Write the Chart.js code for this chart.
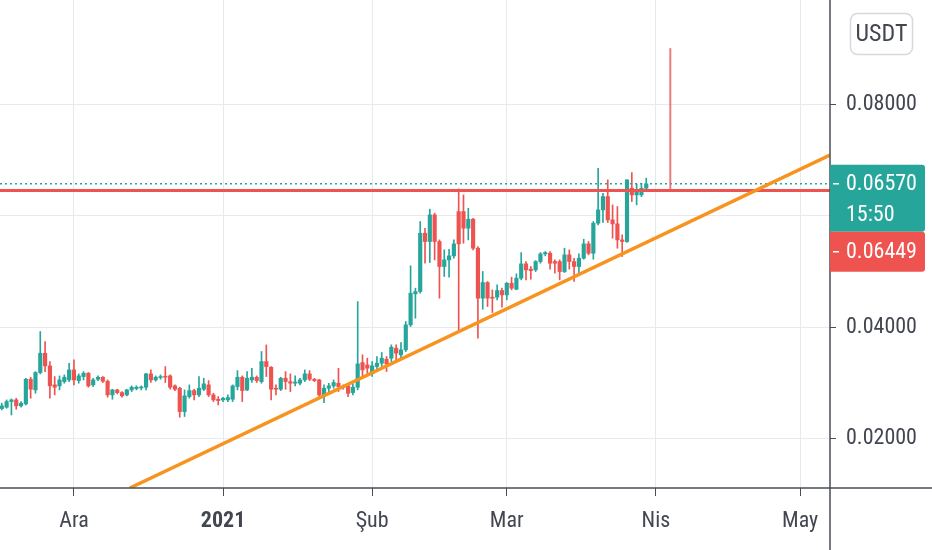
<!DOCTYPE html>
<html>
<head>
<meta charset="utf-8">
<style>
  html, body { margin: 0; padding: 0; background: #ffffff; }
</style>
<script src="https://cdn.jsdelivr.net/npm/chart.js@4.4.0/dist/chart.umd.min.js"></script>
</head>
<body>
<canvas id="chart" width="932" height="550"></canvas>
<script>
// daily candles, first one on 16 Nov 2020
const firstDate = '2020-11-16';

const open = [
  0.02545, 0.02569, 0.02670, 0.02700, 0.02593, 0.02628, 0.03070, 0.02879, 0.03190, 0.03536,
  0.03309, 0.02969, 0.02951, 0.03028, 0.03058, 0.03237, 0.03046, 0.03118, 0.03178, 0.02969,
  0.03070, 0.03106, 0.03034, 0.02790, 0.02879, 0.02831, 0.02790, 0.02879, 0.02903, 0.02915,
  0.02927, 0.03166, 0.03058, 0.03100, 0.03118, 0.03130, 0.02951, 0.02909, 0.02491, 0.02760,
  0.02867, 0.02790, 0.02891, 0.02969, 0.02790, 0.02712, 0.02700, 0.02700, 0.02712, 0.02939,
  0.03106, 0.02879, 0.03058, 0.03106, 0.03028, 0.03387, 0.03285, 0.02909, 0.02891, 0.03088,
  0.03028, 0.02999, 0.02999, 0.03058, 0.03166, 0.03070, 0.03058, 0.02790, 0.02909, 0.02951,
  0.02999, 0.02939, 0.02951, 0.02831, 0.02927, 0.03369, 0.03327, 0.03166, 0.03298, 0.03357,
  0.03429, 0.03447, 0.03626, 0.03507, 0.03596, 0.04044, 0.04599, 0.04641, 0.05686, 0.05537,
  0.06014, 0.05537, 0.05089, 0.05208, 0.05280, 0.06074, 0.06074, 0.05775, 0.05936, 0.05417,
  0.04522, 0.04802, 0.04540, 0.04540, 0.04659, 0.04581, 0.04790, 0.04683, 0.04880, 0.05137,
  0.05041, 0.05029, 0.05178, 0.05315, 0.05327, 0.05178, 0.05178, 0.04999, 0.05298, 0.05178,
  0.05089, 0.05238, 0.05495, 0.05327, 0.05865, 0.06104, 0.06342, 0.05924, 0.05853, 0.05566,
  0.05537, 0.06492, 0.06372, 0.06372, 0.06492
];
const high = [
  0.02640, 0.02700, 0.02718, 0.02730, 0.02670, 0.03088, 0.03106, 0.03207, 0.03924, 0.03745,
  0.03387, 0.03118, 0.03130, 0.03148, 0.03357, 0.03416, 0.03166, 0.03207, 0.03190, 0.03088,
  0.03130, 0.03118, 0.03058, 0.02891, 0.02891, 0.02849, 0.02891, 0.02951, 0.02951, 0.02951,
  0.03178, 0.03237, 0.03130, 0.03148, 0.03297, 0.03148, 0.02969, 0.02927, 0.02879, 0.02969,
  0.02891, 0.03118, 0.03088, 0.03046, 0.02819, 0.02760, 0.02748, 0.02790, 0.02969, 0.03225,
  0.03130, 0.03207, 0.03267, 0.03130, 0.03566, 0.03685, 0.03297, 0.02969, 0.03106, 0.03207,
  0.03166, 0.03130, 0.03088, 0.03237, 0.03225, 0.03088, 0.03070, 0.02969, 0.02999, 0.03058,
  0.03267, 0.02969, 0.02969, 0.02987, 0.04461, 0.03507, 0.03447, 0.03387, 0.03477, 0.03549,
  0.03477, 0.03686, 0.03686, 0.03728, 0.04104, 0.05101, 0.04701, 0.05895, 0.05775, 0.06116,
  0.06044, 0.05566, 0.05387, 0.05399, 0.05566, 0.06480, 0.06372, 0.06133, 0.05954, 0.05447,
  0.05000, 0.04820, 0.04671, 0.04760, 0.04701, 0.04802, 0.04898, 0.04957, 0.05339, 0.05178,
  0.05089, 0.05196, 0.05339, 0.05357, 0.05357, 0.05208, 0.05208, 0.05417, 0.05387, 0.05238,
  0.05315, 0.05578, 0.05537, 0.05895, 0.06850, 0.06402, 0.06641, 0.06193, 0.06163, 0.05656,
  0.06641, 0.06772, 0.06569, 0.06581, 0.06671
];
const low = [
  0.02521, 0.02551, 0.02431, 0.02533, 0.02569, 0.02610, 0.02730, 0.02819, 0.03166, 0.03207,
  0.02730, 0.02790, 0.02879, 0.02999, 0.03028, 0.02969, 0.02999, 0.03058, 0.02927, 0.02939,
  0.03046, 0.03011, 0.02748, 0.02712, 0.02807, 0.02748, 0.02772, 0.02849, 0.02879, 0.02879,
  0.02879, 0.03011, 0.03034, 0.03070, 0.03011, 0.02891, 0.02867, 0.02390, 0.02402, 0.02730,
  0.02700, 0.02760, 0.02867, 0.02760, 0.02670, 0.02610, 0.02670, 0.02670, 0.02670, 0.02879,
  0.02670, 0.02867, 0.03011, 0.03011, 0.02999, 0.03118, 0.02700, 0.02790, 0.02867, 0.02891,
  0.02849, 0.02951, 0.02969, 0.03028, 0.03046, 0.03028, 0.02760, 0.02652, 0.02849, 0.02909,
  0.02849, 0.02891, 0.02760, 0.02790, 0.02879, 0.03119, 0.03148, 0.03119, 0.03238, 0.03298,
  0.03208, 0.03387, 0.03387, 0.03447, 0.03566, 0.04014, 0.04163, 0.04611, 0.05148, 0.05160,
  0.05208, 0.04522, 0.04910, 0.04898, 0.05238, 0.03954, 0.05507, 0.05566, 0.05387, 0.03805,
  0.04325, 0.04372, 0.04265, 0.04492, 0.04360, 0.04492, 0.04671, 0.04671, 0.04850, 0.04850,
  0.04862, 0.04999, 0.05148, 0.05280, 0.05041, 0.04969, 0.04850, 0.04981, 0.05041, 0.04820,
  0.04969, 0.05220, 0.05298, 0.05220, 0.05835, 0.05877, 0.05877, 0.05596, 0.05417, 0.05268,
  0.05519, 0.06253, 0.06193, 0.06342, 0.06462
];
const close = [
  0.02593, 0.02670, 0.02700, 0.02593, 0.02640, 0.03070, 0.02891, 0.03190, 0.03536, 0.03309,
  0.02951, 0.02927, 0.03058, 0.03106, 0.03237, 0.03058, 0.03130, 0.03178, 0.02951, 0.03058,
  0.03106, 0.03034, 0.02790, 0.02879, 0.02831, 0.02772, 0.02879, 0.02927, 0.02927, 0.02927,
  0.03166, 0.03058, 0.03106, 0.03118, 0.03106, 0.02927, 0.02891, 0.02491, 0.02772, 0.02867,
  0.02790, 0.02909, 0.02987, 0.02790, 0.02700, 0.02688, 0.02730, 0.02742, 0.02951, 0.03106,
  0.02867, 0.03088, 0.03106, 0.03046, 0.03387, 0.03297, 0.02891, 0.02891, 0.03088, 0.03028,
  0.02999, 0.03020, 0.03058, 0.03166, 0.03070, 0.03046, 0.02790, 0.02909, 0.02951, 0.03011,
  0.02939, 0.02927, 0.02819, 0.02927, 0.03345, 0.03238, 0.03268, 0.03310, 0.03357, 0.03447,
  0.03345, 0.03644, 0.03537, 0.03596, 0.04044, 0.04611, 0.04641, 0.05686, 0.05537, 0.06014,
  0.05537, 0.05089, 0.05208, 0.05280, 0.05495, 0.05495, 0.05775, 0.05936, 0.05417, 0.04522,
  0.04802, 0.04522, 0.04522, 0.04659, 0.04581, 0.04790, 0.04701, 0.04880, 0.05137, 0.05029,
  0.05017, 0.05178, 0.05315, 0.05339, 0.05148, 0.05148, 0.04999, 0.05298, 0.05178, 0.05089,
  0.05238, 0.05495, 0.05327, 0.05865, 0.06104, 0.06342, 0.05924, 0.05853, 0.05566, 0.05537,
  0.06641, 0.06372, 0.06432, 0.06492, 0.06570
];

// time axis
const monthTicks = ['2020-12-01', '2021-01-01', '2021-02-01', '2021-03-01', '2021-04-01', '2021-05-01'];
const monthLabels = ['Ara', '2021', 'Şub', 'Mar', 'Nis', 'May'];
const viewFrom = '2020-11-15T15:00Z';
const viewTo = '2021-05-07T05:00Z';

// price axis
const priceTicks = [0.02, 0.04, 0.06, 0.08];
const priceMin = 0.01122;
const priceMax = 0.09863;

// drawings
const lastPrice = 0.06570;
const countdown = '15:50';
const resistance = 0.06449;
const trendDates = ['2020-12-12T15:00Z', '2021-05-07T05:00Z'];
const trendValues = [0.01122, 0.07087];
const spikeDate = '2021-04-04';
const spikeValues = [0.06449, 0.09000];
const currency = 'USDT';

const GREEN = '#26a69a';
const RED = '#ef5350';
const FONT = '"Liberation Sans Narrow", "Roboto Condensed", Roboto, sans-serif';
const TEXT = '#434651';

const DAY = 86400000;
const ORIGIN = Date.parse('2020-12-01T00:00Z');
const toDay = s => (Date.parse(s.length === 10 ? s + 'T00:00Z' : s) - ORIGIN) / DAY;

const dates = open.map((_, i) => new Date(Date.parse(firstDate + 'T00:00Z') + i * DAY).toISOString().slice(0, 10));
const days = dates.map(toDay);
const colors = close.map((c, i) => c >= open[i] ? GREEN : RED);
const xMin = toDay(viewFrom), xMax = toDay(viewTo);
const tickDays = monthTicks.map(toDay);

const overlay = {
  id: 'overlay',
  afterDraw(chart) {
    const { ctx, chartArea, scales: { y } } = chart;
    ctx.save();
    // axis cross lines
    ctx.strokeStyle = '#4a4d57';
    ctx.lineWidth = 1.5;
    ctx.beginPath();
    ctx.moveTo(0, chartArea.bottom); ctx.lineTo(chart.width, chartArea.bottom);
    ctx.moveTo(chartArea.right, 0); ctx.lineTo(chartArea.right, chart.height);
    ctx.stroke();

    // price tags
    const left = chartArea.right, w = 95;
    const yLast = y.getPixelForValue(lastPrice);
    const tTop = yLast - 19, tH = 67;
    ctx.fillStyle = GREEN;
    ctx.beginPath(); ctx.roundRect(left, tTop, w, tH, [0, 3, 3, 0]); ctx.fill();
    const rTop = tTop + tH, rH = 40;
    ctx.fillStyle = RED;
    ctx.beginPath(); ctx.roundRect(left, rTop, w, rH, [0, 3, 3, 0]); ctx.fill();

    ctx.fillStyle = '#ffffff';
    ctx.font = '22px ' + FONT;
    ctx.textAlign = 'left';
    ctx.textBaseline = 'middle';
    ctx.fillText(lastPrice.toFixed(5), left + 16, yLast + 1);
    ctx.fillText(countdown, left + 16, yLast + 32);
    ctx.fillText(resistance.toFixed(5), left + 16, rTop + 21);
    ctx.strokeStyle = '#ffffff';
    ctx.lineWidth = 1.5;
    ctx.beginPath();
    ctx.moveTo(left + 3, yLast); ctx.lineTo(left + 9, yLast);
    ctx.moveTo(left + 3, rTop + 20); ctx.lineTo(left + 9, rTop + 20);
    ctx.stroke();

    // currency button
    ctx.strokeStyle = '#d6d8de';
    ctx.lineWidth = 1.5;
    ctx.fillStyle = '#ffffff';
    ctx.beginPath(); ctx.roundRect(850.5, 13.5, 62, 41, 7); ctx.fill(); ctx.stroke();
    ctx.fillStyle = TEXT;
    ctx.textAlign = 'center';
    ctx.font = '24px ' + FONT;
    ctx.fillText(currency, 881.5, 35);
    ctx.restore();
  }
};

const ctx = document.getElementById('chart').getContext('2d');
const chart = new Chart(ctx, {
  type: 'bar',
  data: {
    datasets: [
      {
        type: 'line',
        data: trendDates.map((d, i) => ({ x: toDay(d), y: trendValues[i] })),
        borderColor: '#f7931e',
        borderWidth: 3.5,
        pointRadius: 0,
        order: 0
      },
      {
        type: 'line',
        data: [{ x: xMin, y: resistance }, { x: xMax, y: resistance }],
        borderColor: RED,
        borderWidth: 3,
        pointRadius: 0,
        order: 1
      },
      {
        type: 'line',
        data: spikeValues.map(v => ({ x: toDay(spikeDate), y: v })),
        borderColor: 'rgba(232, 100, 105, 0.85)',
        borderWidth: 2,
        pointRadius: 0,
        order: 1
      },
      {
        type: 'line',
        data: [{ x: xMin, y: lastPrice }, { x: xMax, y: lastPrice }],
        borderColor: GREEN,
        borderWidth: 1.5,
        borderDash: [2, 3],
        pointRadius: 0,
        order: 2
      },
      {
        data: days.map((d, i) => ({ x: d, y: [open[i], close[i]] })),
        backgroundColor: colors,
        barThickness: 3.5,
        minBarLength: 1,
        grouped: false,
        order: 3
      },
      {
        data: days.map((d, i) => ({ x: d, y: [low[i], high[i]] })),
        backgroundColor: colors,
        barThickness: 1,
        grouped: false,
        order: 4
      }
    ]
  },
  options: {
    responsive: false,
    animation: false,
    layout: { padding: 0 },
    plugins: { legend: { display: false }, tooltip: { enabled: false } },
    scales: {
      x: {
        type: 'linear',
        min: xMin,
        max: xMax,
        offset: false,
        grid: { color: '#e3eaf0', offset: false, tickLength: 8, tickColor: '#4a4d57' },
        border: { display: false },
        afterBuildTicks: s => { s.ticks = tickDays.map(v => ({ value: v })); },
        afterFit: s => { s.height = 62; s.paddingLeft = 0; s.paddingRight = 0; },
        ticks: {
          color: TEXT,
          padding: 12,
          maxRotation: 0,
          autoSkip: false,
          font: c => ({ family: FONT, size: 22, weight: c.tick && c.tick.value === tickDays[1] ? 'bold' : 'normal' }),
          callback: v => monthLabels[tickDays.indexOf(v)]
        }
      },
      y: {
        position: 'right',
        min: priceMin,
        max: priceMax,
        beginAtZero: false,
        grid: { color: '#e8eaee', tickLength: 6, tickColor: '#4a4d57' },
        border: { display: false },
        afterBuildTicks: s => { s.ticks = priceTicks.map(v => ({ value: v })); },
        afterFit: s => { s.width = 102; s.paddingTop = 0; s.paddingBottom = 0; },
        ticks: {
          color: TEXT,
          padding: 10,
          crossAlign: 'near',
          font: { family: FONT, size: 22 },
          callback: v => v.toFixed(5)
        }
      }
    }
  },
  plugins: [overlay]
});
</script>
</body>
</html>
